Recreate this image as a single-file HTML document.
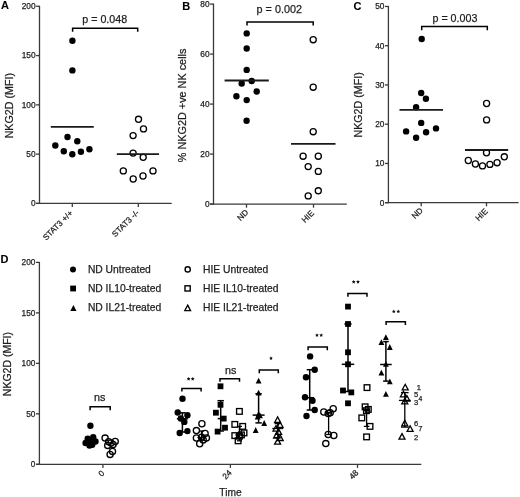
<!DOCTYPE html>
<html><head><meta charset="utf-8"><title>NKG2D figure</title>
<style>
html,body{margin:0;padding:0;background:#fff;}
body{width:520px;height:497px;overflow:hidden;}
svg{display:block;font-family:"Liberation Sans", sans-serif;will-change:transform;}
</style></head>
<body>
<svg width="520" height="497" viewBox="0 0 520 497">
<rect width="520" height="497" fill="#fff"/>
<text x="1" y="9" font-size="11" text-anchor="start" font-weight="bold" fill="#000" stroke="#000" stroke-width="0.1">A</text>
<line x1="39.5" y1="5.8" x2="39.5" y2="203.9" stroke="#3a3a3a" stroke-width="1.3"/>
<line x1="36.1" y1="203.4" x2="39.5" y2="203.4" stroke="#3a3a3a" stroke-width="1.3"/>
<text x="35.5" y="206.3" font-size="8.3" text-anchor="end" font-weight="normal" fill="#1e1e1e" stroke="#1e1e1e" stroke-width="0.25">0</text>
<line x1="36.1" y1="154.12" x2="39.5" y2="154.12" stroke="#3a3a3a" stroke-width="1.3"/>
<text x="35.5" y="157.03" font-size="8.3" text-anchor="end" font-weight="normal" fill="#1e1e1e" stroke="#1e1e1e" stroke-width="0.25">50</text>
<line x1="36.1" y1="104.85" x2="39.5" y2="104.85" stroke="#3a3a3a" stroke-width="1.3"/>
<text x="35.5" y="107.75" font-size="8.3" text-anchor="end" font-weight="normal" fill="#1e1e1e" stroke="#1e1e1e" stroke-width="0.25">100</text>
<line x1="36.1" y1="55.57" x2="39.5" y2="55.57" stroke="#3a3a3a" stroke-width="1.3"/>
<text x="35.5" y="58.47" font-size="8.3" text-anchor="end" font-weight="normal" fill="#1e1e1e" stroke="#1e1e1e" stroke-width="0.25">150</text>
<line x1="36.1" y1="6.3" x2="39.5" y2="6.3" stroke="#3a3a3a" stroke-width="1.3"/>
<text x="35.5" y="9.2" font-size="8.3" text-anchor="end" font-weight="normal" fill="#1e1e1e" stroke="#1e1e1e" stroke-width="0.25">200</text>
<line x1="36" y1="203.4" x2="171.7" y2="203.4" stroke="#3a3a3a" stroke-width="1.3"/>
<line x1="72.3" y1="203.4" x2="72.3" y2="207" stroke="#3a3a3a" stroke-width="1.3"/>
<line x1="138.3" y1="203.4" x2="138.3" y2="207" stroke="#3a3a3a" stroke-width="1.3"/>
<text x="73.3" y="213.7" font-size="8.2" text-anchor="end" font-weight="normal" fill="#1e1e1e" stroke="#1e1e1e" stroke-width="0.25" transform="rotate(-45 73.3 213.7)">STAT3 +/+</text>
<text x="139.6" y="213.2" font-size="8.2" text-anchor="end" font-weight="normal" fill="#1e1e1e" stroke="#1e1e1e" stroke-width="0.25" transform="rotate(-45 139.6 213.2)">STAT3 -/-</text>
<text x="13.2" y="105.7" font-size="10.7" text-anchor="middle" font-weight="normal" fill="#1e1e1e" stroke="#1e1e1e" stroke-width="0.25" transform="rotate(-90 13.2 105.7)">NKG2D (MFI)</text>
<polyline points="72.6,31.8 72.6,28.3 137.7,28.3 137.7,31.8" fill="none" stroke="#000" stroke-width="1.5"/>
<text x="82.3" y="22.9" font-size="10.7" text-anchor="start" font-weight="normal" fill="#1e1e1e" stroke="#1e1e1e" stroke-width="0.25">p = 0.048</text>
<circle cx="72.4" cy="40.7" r="3.2" fill="#000"/>
<circle cx="72.4" cy="70.4" r="3.2" fill="#000"/>
<circle cx="55.3" cy="145.5" r="3.2" fill="#000"/>
<circle cx="67.5" cy="137.0" r="3.2" fill="#000"/>
<circle cx="63.8" cy="151.2" r="3.2" fill="#000"/>
<circle cx="72.3" cy="154.2" r="3.2" fill="#000"/>
<circle cx="77.3" cy="141.3" r="3.2" fill="#000"/>
<circle cx="80.9" cy="151.8" r="3.2" fill="#000"/>
<circle cx="89.4" cy="149.2" r="3.2" fill="#000"/>
<line x1="50.8" y1="126.8" x2="93.8" y2="126.8" stroke="#1a1a1a" stroke-width="1.8"/>
<circle cx="138.5" cy="119.3" r="3.05" fill="none" stroke="#000" stroke-width="1.3"/>
<circle cx="143.5" cy="128.9" r="3.05" fill="none" stroke="#000" stroke-width="1.3"/>
<circle cx="133.1" cy="135.6" r="3.05" fill="none" stroke="#000" stroke-width="1.3"/>
<circle cx="133.1" cy="153.1" r="3.05" fill="none" stroke="#000" stroke-width="1.3"/>
<circle cx="143.2" cy="157.3" r="3.05" fill="none" stroke="#000" stroke-width="1.3"/>
<circle cx="123.3" cy="170.9" r="3.05" fill="none" stroke="#000" stroke-width="1.3"/>
<circle cx="153.0" cy="170.9" r="3.05" fill="none" stroke="#000" stroke-width="1.3"/>
<circle cx="133.2" cy="179.0" r="3.05" fill="none" stroke="#000" stroke-width="1.3"/>
<circle cx="143.0" cy="176.0" r="3.05" fill="none" stroke="#000" stroke-width="1.3"/>
<line x1="116.8" y1="154.2" x2="159" y2="154.2" stroke="#1a1a1a" stroke-width="1.8"/>
<text x="182.3" y="9.7" font-size="11" text-anchor="start" font-weight="bold" fill="#000" stroke="#000" stroke-width="0.1">B</text>
<line x1="213.5" y1="3.6" x2="213.5" y2="204.6" stroke="#3a3a3a" stroke-width="1.3"/>
<line x1="210.1" y1="204.1" x2="213.5" y2="204.1" stroke="#3a3a3a" stroke-width="1.3"/>
<text x="209.5" y="207" font-size="8.3" text-anchor="end" font-weight="normal" fill="#1e1e1e" stroke="#1e1e1e" stroke-width="0.25">0</text>
<line x1="210.1" y1="154.1" x2="213.5" y2="154.1" stroke="#3a3a3a" stroke-width="1.3"/>
<text x="209.5" y="157" font-size="8.3" text-anchor="end" font-weight="normal" fill="#1e1e1e" stroke="#1e1e1e" stroke-width="0.25">20</text>
<line x1="210.1" y1="104.1" x2="213.5" y2="104.1" stroke="#3a3a3a" stroke-width="1.3"/>
<text x="209.5" y="107" font-size="8.3" text-anchor="end" font-weight="normal" fill="#1e1e1e" stroke="#1e1e1e" stroke-width="0.25">40</text>
<line x1="210.1" y1="54.1" x2="213.5" y2="54.1" stroke="#3a3a3a" stroke-width="1.3"/>
<text x="209.5" y="57" font-size="8.3" text-anchor="end" font-weight="normal" fill="#1e1e1e" stroke="#1e1e1e" stroke-width="0.25">60</text>
<line x1="210.1" y1="4.1" x2="213.5" y2="4.1" stroke="#3a3a3a" stroke-width="1.3"/>
<text x="209.5" y="7" font-size="8.3" text-anchor="end" font-weight="normal" fill="#1e1e1e" stroke="#1e1e1e" stroke-width="0.25">80</text>
<line x1="210" y1="204.1" x2="346.8" y2="204.1" stroke="#3a3a3a" stroke-width="1.3"/>
<line x1="246.5" y1="204.1" x2="246.5" y2="207.7" stroke="#3a3a3a" stroke-width="1.3"/>
<line x1="313.5" y1="204.1" x2="313.5" y2="207.7" stroke="#3a3a3a" stroke-width="1.3"/>
<text x="248.9" y="212.8" font-size="8.2" text-anchor="end" font-weight="normal" fill="#1e1e1e" stroke="#1e1e1e" stroke-width="0.25" transform="rotate(-45 248.9 212.8)">ND</text>
<text x="314.7" y="213.7" font-size="8.2" text-anchor="end" font-weight="normal" fill="#1e1e1e" stroke="#1e1e1e" stroke-width="0.25" transform="rotate(-45 314.7 213.7)">HIE</text>
<text x="186.2" y="105.4" font-size="10.85" text-anchor="middle" font-weight="normal" fill="#1e1e1e" stroke="#1e1e1e" stroke-width="0.25" transform="rotate(-90 186.2 105.4)">% NKG2D +ve NK cells</text>
<polyline points="247.0,25.5 247.0,21.9 313.2,21.9 313.2,25.5" fill="none" stroke="#000" stroke-width="1.5"/>
<text x="256.6" y="12.6" font-size="10.8" text-anchor="start" font-weight="normal" fill="#1e1e1e" stroke="#1e1e1e" stroke-width="0.25">p = 0.002</text>
<circle cx="246.7" cy="33.4" r="3.2" fill="#000"/>
<circle cx="246.7" cy="48.5" r="3.2" fill="#000"/>
<circle cx="246.7" cy="69.9" r="3.2" fill="#000"/>
<circle cx="241.7" cy="83.5" r="3.2" fill="#000"/>
<circle cx="251.7" cy="81.0" r="3.2" fill="#000"/>
<circle cx="256.7" cy="91.5" r="3.2" fill="#000"/>
<circle cx="236.4" cy="96.3" r="3.2" fill="#000"/>
<circle cx="246.7" cy="100.1" r="3.2" fill="#000"/>
<circle cx="246.6" cy="120.7" r="3.2" fill="#000"/>
<line x1="224.6" y1="80.5" x2="268.8" y2="80.5" stroke="#1a1a1a" stroke-width="1.8"/>
<circle cx="313.2" cy="39.7" r="3.05" fill="none" stroke="#000" stroke-width="1.3"/>
<circle cx="313.2" cy="87.2" r="3.05" fill="none" stroke="#000" stroke-width="1.3"/>
<circle cx="313.2" cy="131.7" r="3.05" fill="none" stroke="#000" stroke-width="1.3"/>
<circle cx="303.1" cy="156.2" r="3.05" fill="none" stroke="#000" stroke-width="1.3"/>
<circle cx="318.3" cy="156.2" r="3.05" fill="none" stroke="#000" stroke-width="1.3"/>
<circle cx="308.2" cy="166.6" r="3.05" fill="none" stroke="#000" stroke-width="1.3"/>
<circle cx="318.3" cy="171.4" r="3.05" fill="none" stroke="#000" stroke-width="1.3"/>
<circle cx="318.3" cy="190.8" r="3.05" fill="none" stroke="#000" stroke-width="1.3"/>
<circle cx="308.2" cy="195.9" r="3.05" fill="none" stroke="#000" stroke-width="1.3"/>
<line x1="291" y1="143.8" x2="335.5" y2="143.8" stroke="#1a1a1a" stroke-width="1.8"/>
<text x="353.4" y="9.7" font-size="11" text-anchor="start" font-weight="bold" fill="#000" stroke="#000" stroke-width="0.1">C</text>
<line x1="388.4" y1="5.95" x2="388.4" y2="203.2" stroke="#3a3a3a" stroke-width="1.3"/>
<line x1="385" y1="202.7" x2="388.4" y2="202.7" stroke="#3a3a3a" stroke-width="1.3"/>
<text x="384.4" y="205.6" font-size="8.3" text-anchor="end" font-weight="normal" fill="#1e1e1e" stroke="#1e1e1e" stroke-width="0.25">0</text>
<line x1="385" y1="163.45" x2="388.4" y2="163.45" stroke="#3a3a3a" stroke-width="1.3"/>
<text x="384.4" y="166.35" font-size="8.3" text-anchor="end" font-weight="normal" fill="#1e1e1e" stroke="#1e1e1e" stroke-width="0.25">10</text>
<line x1="385" y1="124.2" x2="388.4" y2="124.2" stroke="#3a3a3a" stroke-width="1.3"/>
<text x="384.4" y="127.1" font-size="8.3" text-anchor="end" font-weight="normal" fill="#1e1e1e" stroke="#1e1e1e" stroke-width="0.25">20</text>
<line x1="385" y1="84.95" x2="388.4" y2="84.95" stroke="#3a3a3a" stroke-width="1.3"/>
<text x="384.4" y="87.85" font-size="8.3" text-anchor="end" font-weight="normal" fill="#1e1e1e" stroke="#1e1e1e" stroke-width="0.25">30</text>
<line x1="385" y1="45.7" x2="388.4" y2="45.7" stroke="#3a3a3a" stroke-width="1.3"/>
<text x="384.4" y="48.6" font-size="8.3" text-anchor="end" font-weight="normal" fill="#1e1e1e" stroke="#1e1e1e" stroke-width="0.25">40</text>
<line x1="385" y1="6.45" x2="388.4" y2="6.45" stroke="#3a3a3a" stroke-width="1.3"/>
<text x="384.4" y="9.35" font-size="8.3" text-anchor="end" font-weight="normal" fill="#1e1e1e" stroke="#1e1e1e" stroke-width="0.25">50</text>
<line x1="385.2" y1="202.7" x2="518.6" y2="202.7" stroke="#3a3a3a" stroke-width="1.3"/>
<line x1="421.2" y1="202.7" x2="421.2" y2="206.3" stroke="#3a3a3a" stroke-width="1.3"/>
<line x1="486.5" y1="202.7" x2="486.5" y2="206.3" stroke="#3a3a3a" stroke-width="1.3"/>
<text x="423.4" y="211" font-size="8.2" text-anchor="end" font-weight="normal" fill="#1e1e1e" stroke="#1e1e1e" stroke-width="0.25" transform="rotate(-45 423.4 211)">ND</text>
<text x="488.3" y="211.8" font-size="8.2" text-anchor="end" font-weight="normal" fill="#1e1e1e" stroke="#1e1e1e" stroke-width="0.25" transform="rotate(-45 488.3 211.8)">HIE</text>
<text x="361.9" y="104.9" font-size="10.7" text-anchor="middle" font-weight="normal" fill="#1e1e1e" stroke="#1e1e1e" stroke-width="0.25" transform="rotate(-90 361.9 104.9)">NKG2D (MFI)</text>
<polyline points="421.7,30.3 421.7,26.4 487.3,26.4 487.3,30.3" fill="none" stroke="#000" stroke-width="1.5"/>
<text x="432.5" y="21.6" font-size="10.7" text-anchor="start" font-weight="normal" fill="#1e1e1e" stroke="#1e1e1e" stroke-width="0.25">p = 0.003</text>
<circle cx="421.7" cy="39.0" r="3.2" fill="#000"/>
<circle cx="421.2" cy="93.0" r="3.2" fill="#000"/>
<circle cx="425.9" cy="98.8" r="3.2" fill="#000"/>
<circle cx="416.1" cy="107.3" r="3.2" fill="#000"/>
<circle cx="421.2" cy="122.9" r="3.2" fill="#000"/>
<circle cx="406.1" cy="131.4" r="3.2" fill="#000"/>
<circle cx="426.1" cy="132.3" r="3.2" fill="#000"/>
<circle cx="436.0" cy="128.4" r="3.2" fill="#000"/>
<circle cx="416.1" cy="137.7" r="3.2" fill="#000"/>
<line x1="399.5" y1="109.9" x2="443" y2="109.9" stroke="#1a1a1a" stroke-width="1.8"/>
<circle cx="486.6" cy="103.5" r="3.05" fill="none" stroke="#000" stroke-width="1.3"/>
<circle cx="486.6" cy="119.9" r="3.05" fill="none" stroke="#000" stroke-width="1.3"/>
<circle cx="486.5" cy="152.8" r="3.05" fill="none" stroke="#000" stroke-width="1.3"/>
<circle cx="468.3" cy="160.5" r="3.05" fill="none" stroke="#000" stroke-width="1.3"/>
<circle cx="475.4" cy="164.0" r="3.05" fill="none" stroke="#000" stroke-width="1.3"/>
<circle cx="482.5" cy="165.9" r="3.05" fill="none" stroke="#000" stroke-width="1.3"/>
<circle cx="489.9" cy="164.4" r="3.05" fill="none" stroke="#000" stroke-width="1.3"/>
<circle cx="497.1" cy="162.7" r="3.05" fill="none" stroke="#000" stroke-width="1.3"/>
<circle cx="504.3" cy="156.8" r="3.05" fill="none" stroke="#000" stroke-width="1.3"/>
<line x1="465" y1="150" x2="508.2" y2="150" stroke="#1a1a1a" stroke-width="1.8"/>
<text x="0.6" y="262.8" font-size="11" text-anchor="start" font-weight="bold" fill="#000" stroke="#000" stroke-width="0.1">D</text>
<line x1="39.4" y1="261.9" x2="39.4" y2="464.8" stroke="#3a3a3a" stroke-width="1.3"/>
<line x1="36" y1="464.3" x2="39.4" y2="464.3" stroke="#3a3a3a" stroke-width="1.3"/>
<text x="35.4" y="467.2" font-size="8.3" text-anchor="end" font-weight="normal" fill="#1e1e1e" stroke="#1e1e1e" stroke-width="0.25">0</text>
<line x1="36" y1="413.82" x2="39.4" y2="413.82" stroke="#3a3a3a" stroke-width="1.3"/>
<text x="35.4" y="416.72" font-size="8.3" text-anchor="end" font-weight="normal" fill="#1e1e1e" stroke="#1e1e1e" stroke-width="0.25">50</text>
<line x1="36" y1="363.35" x2="39.4" y2="363.35" stroke="#3a3a3a" stroke-width="1.3"/>
<text x="35.4" y="366.25" font-size="8.3" text-anchor="end" font-weight="normal" fill="#1e1e1e" stroke="#1e1e1e" stroke-width="0.25">100</text>
<line x1="36" y1="312.88" x2="39.4" y2="312.88" stroke="#3a3a3a" stroke-width="1.3"/>
<text x="35.4" y="315.77" font-size="8.3" text-anchor="end" font-weight="normal" fill="#1e1e1e" stroke="#1e1e1e" stroke-width="0.25">150</text>
<line x1="36" y1="262.4" x2="39.4" y2="262.4" stroke="#3a3a3a" stroke-width="1.3"/>
<text x="35.4" y="265.3" font-size="8.3" text-anchor="end" font-weight="normal" fill="#1e1e1e" stroke="#1e1e1e" stroke-width="0.25">200</text>
<line x1="36" y1="464.3" x2="421.3" y2="464.3" stroke="#3a3a3a" stroke-width="1.3"/>
<line x1="102.9" y1="464.3" x2="102.9" y2="467.9" stroke="#3a3a3a" stroke-width="1.3"/>
<line x1="230.4" y1="464.3" x2="230.4" y2="467.9" stroke="#3a3a3a" stroke-width="1.3"/>
<line x1="357.5" y1="464.3" x2="357.5" y2="467.9" stroke="#3a3a3a" stroke-width="1.3"/>
<text x="104.9" y="473.7" font-size="8.2" text-anchor="end" font-weight="normal" fill="#1e1e1e" stroke="#1e1e1e" stroke-width="0.25" transform="rotate(-45 104.9 473.7)">0</text>
<text x="232.3" y="473.2" font-size="8.2" text-anchor="end" font-weight="normal" fill="#1e1e1e" stroke="#1e1e1e" stroke-width="0.25" transform="rotate(-45 232.3 473.2)">24</text>
<text x="359" y="473.2" font-size="8.2" text-anchor="end" font-weight="normal" fill="#1e1e1e" stroke="#1e1e1e" stroke-width="0.25" transform="rotate(-45 359 473.2)">48</text>
<text x="219.3" y="495.8" font-size="10.2" text-anchor="start" font-weight="normal" fill="#1e1e1e" stroke="#1e1e1e" stroke-width="0.25">Time</text>
<text x="10.9" y="364.1" font-size="10.5" text-anchor="middle" font-weight="normal" fill="#1e1e1e" stroke="#1e1e1e" stroke-width="0.25" transform="rotate(-90 10.9 364.1)">NKG2D (MFI)</text>
<circle cx="73.0" cy="269.6" r="3.0" fill="#000"/>
<text x="87.9" y="273.4" font-size="10.3" text-anchor="start" font-weight="normal" fill="#1e1e1e" stroke="#1e1e1e" stroke-width="0.25">ND Untreated</text>
<rect x="70.20" y="285.60" width="5.8" height="5.8" fill="#000"/>
<text x="87.9" y="292.3" font-size="10.3" text-anchor="start" font-weight="normal" fill="#1e1e1e" stroke="#1e1e1e" stroke-width="0.25">ND IL10-treated</text>
<polygon points="73.40,305.12 76.50,310.92 70.30,310.92" fill="#000"/>
<text x="87.9" y="311.4" font-size="10.3" text-anchor="start" font-weight="normal" fill="#1e1e1e" stroke="#1e1e1e" stroke-width="0.25">ND IL21-treated</text>
<circle cx="187.7" cy="269.4" r="2.6" fill="none" stroke="#000" stroke-width="1.4"/>
<text x="203" y="273.4" font-size="10.3" text-anchor="start" font-weight="normal" fill="#1e1e1e" stroke="#1e1e1e" stroke-width="0.25">HIE Untreated</text>
<rect x="185.00" y="285.80" width="5.20" height="5.20" fill="none" stroke="#000" stroke-width="1.4"/>
<text x="203" y="292.3" font-size="10.3" text-anchor="start" font-weight="normal" fill="#1e1e1e" stroke="#1e1e1e" stroke-width="0.25">HIE IL10-treated</text>
<polygon points="187.70,305.11 190.60,310.71 184.80,310.71" fill="none" stroke="#000" stroke-width="1.3" stroke-linejoin="miter"/>
<text x="203" y="311.4" font-size="10.3" text-anchor="start" font-weight="normal" fill="#1e1e1e" stroke="#1e1e1e" stroke-width="0.25">HIE IL21-treated</text>
<circle cx="90.4" cy="425.8" r="3.2" fill="#000"/>
<circle cx="93.2" cy="437.3" r="3.2" fill="#000"/>
<circle cx="87.7" cy="438.8" r="3.2" fill="#000"/>
<circle cx="95.5" cy="441.5" r="3.2" fill="#000"/>
<circle cx="85.6" cy="443.0" r="3.2" fill="#000"/>
<circle cx="89.5" cy="445.5" r="3.2" fill="#000"/>
<circle cx="92.2" cy="444.7" r="3.2" fill="#000"/>
<circle cx="90.0" cy="441.5" r="3.2" fill="#000"/>
<circle cx="105.1" cy="438.1" r="3.1" fill="none" stroke="#000" stroke-width="1.3"/>
<circle cx="115.2" cy="441.5" r="3.1" fill="none" stroke="#000" stroke-width="1.3"/>
<circle cx="107.7" cy="445.4" r="3.1" fill="none" stroke="#000" stroke-width="1.3"/>
<circle cx="111.0" cy="443.0" r="3.1" fill="none" stroke="#000" stroke-width="1.3"/>
<circle cx="113.1" cy="444.5" r="3.1" fill="none" stroke="#000" stroke-width="1.3"/>
<circle cx="110.1" cy="454.4" r="3.1" fill="none" stroke="#000" stroke-width="1.3"/>
<circle cx="112.5" cy="451.4" r="3.1" fill="none" stroke="#000" stroke-width="1.3"/>
<circle cx="108.6" cy="441.8" r="3.1" fill="none" stroke="#000" stroke-width="1.3"/>
<polyline points="90.1,410.3 90.1,406.8 110.2,406.8 110.2,410.3" fill="none" stroke="#000" stroke-width="1.5"/>
<text x="94" y="400.6" font-size="10.8" text-anchor="start" font-weight="normal" fill="#1e1e1e" stroke="#1e1e1e" stroke-width="0.25">ns</text>
<line x1="182.4" y1="412.8" x2="182.4" y2="432" stroke="#000" stroke-width="1.5"/>
<line x1="179.2" y1="412.8" x2="185.6" y2="412.8" stroke="#000" stroke-width="1.5"/>
<line x1="179.2" y1="432" x2="185.6" y2="432" stroke="#000" stroke-width="1.5"/>
<line x1="176.9" y1="418.8" x2="187.9" y2="418.8" stroke="#000" stroke-width="1.5"/>
<circle cx="182.5" cy="398.8" r="3.2" fill="#000"/>
<circle cx="177.7" cy="412.5" r="3.2" fill="#000"/>
<circle cx="187.4" cy="415.2" r="3.2" fill="#000"/>
<circle cx="180.8" cy="418.5" r="3.2" fill="#000"/>
<circle cx="184.3" cy="421.9" r="3.2" fill="#000"/>
<circle cx="179.7" cy="433.0" r="3.2" fill="#000"/>
<circle cx="187.4" cy="431.1" r="3.2" fill="#000"/>
<line x1="201.5" y1="431" x2="201.5" y2="440" stroke="#000" stroke-width="1.3"/>
<line x1="199" y1="431" x2="204" y2="431" stroke="#000" stroke-width="1.3"/>
<line x1="199" y1="440" x2="204" y2="440" stroke="#000" stroke-width="1.3"/>
<line x1="197.5" y1="437.5" x2="205.5" y2="437.5" stroke="#000" stroke-width="1.3"/>
<circle cx="201.9" cy="423.8" r="3.1" fill="none" stroke="#000" stroke-width="1.3"/>
<circle cx="196.4" cy="430.6" r="3.1" fill="none" stroke="#000" stroke-width="1.3"/>
<circle cx="205.1" cy="433.5" r="3.1" fill="none" stroke="#000" stroke-width="1.3"/>
<circle cx="196.4" cy="438.0" r="3.1" fill="none" stroke="#000" stroke-width="1.3"/>
<circle cx="206.4" cy="438.0" r="3.1" fill="none" stroke="#000" stroke-width="1.3"/>
<circle cx="199.7" cy="443.8" r="3.1" fill="none" stroke="#000" stroke-width="1.3"/>
<circle cx="203.2" cy="439.9" r="3.1" fill="none" stroke="#000" stroke-width="1.3"/>
<circle cx="201.6" cy="437.3" r="3.1" fill="none" stroke="#000" stroke-width="1.3"/>
<polyline points="181.9,391.5 181.9,388.4 201.1,388.4 201.1,391.5" fill="none" stroke="#000" stroke-width="1.5"/>
<polygon points="188.60,376.95 189.19,378.09 190.45,378.30 189.55,379.21 189.75,380.48 188.60,379.90 187.45,380.48 187.65,379.21 186.75,378.30 188.01,378.09" fill="#111"/>
<polygon points="192.70,376.95 193.29,378.09 194.55,378.30 193.65,379.21 193.85,380.48 192.70,379.90 191.55,380.48 191.75,379.21 190.85,378.30 192.11,378.09" fill="#111"/>
<line x1="220.7" y1="400.7" x2="220.7" y2="431" stroke="#000" stroke-width="1.5"/>
<line x1="217.5" y1="400.7" x2="223.9" y2="400.7" stroke="#000" stroke-width="1.5"/>
<line x1="217.5" y1="431" x2="223.9" y2="431" stroke="#000" stroke-width="1.5"/>
<line x1="217.7" y1="418.6" x2="223.7" y2="418.6" stroke="#000" stroke-width="1.5"/>
<rect x="217.60" y="383.40" width="5.8" height="5.8" fill="#000"/>
<rect x="217.60" y="401.90" width="5.8" height="5.8" fill="#000"/>
<rect x="213.00" y="409.80" width="5.8" height="5.8" fill="#000"/>
<rect x="220.80" y="415.70" width="5.8" height="5.8" fill="#000"/>
<rect x="222.10" y="424.80" width="5.8" height="5.8" fill="#000"/>
<rect x="214.70" y="428.70" width="5.8" height="5.8" fill="#000"/>
<line x1="239.4" y1="426.4" x2="239.4" y2="440.8" stroke="#000" stroke-width="1.3"/>
<line x1="236.9" y1="426.4" x2="241.9" y2="426.4" stroke="#000" stroke-width="1.3"/>
<line x1="236.9" y1="440.8" x2="241.9" y2="440.8" stroke="#000" stroke-width="1.3"/>
<line x1="235.4" y1="434.9" x2="243.4" y2="434.9" stroke="#000" stroke-width="1.3"/>
<rect x="236.58" y="408.57" width="5.65" height="5.65" fill="none" stroke="#000" stroke-width="1.35"/>
<rect x="231.98" y="421.57" width="5.65" height="5.65" fill="none" stroke="#000" stroke-width="1.35"/>
<rect x="239.88" y="423.57" width="5.65" height="5.65" fill="none" stroke="#000" stroke-width="1.35"/>
<rect x="241.18" y="430.07" width="5.65" height="5.65" fill="none" stroke="#000" stroke-width="1.35"/>
<rect x="231.98" y="432.78" width="5.65" height="5.65" fill="none" stroke="#000" stroke-width="1.35"/>
<rect x="236.58" y="433.38" width="5.65" height="5.65" fill="none" stroke="#000" stroke-width="1.35"/>
<rect x="235.28" y="437.98" width="5.65" height="5.65" fill="none" stroke="#000" stroke-width="1.35"/>
<rect x="238.58" y="432.07" width="5.65" height="5.65" fill="none" stroke="#000" stroke-width="1.35"/>
<polyline points="220.0,381.8 220.0,378.7 239.5,378.7 239.5,381.8" fill="none" stroke="#000" stroke-width="1.5"/>
<text x="224.9" y="373.8" font-size="10.8" text-anchor="start" font-weight="normal" fill="#1e1e1e" stroke="#1e1e1e" stroke-width="0.25">ns</text>
<line x1="258.6" y1="393.8" x2="258.6" y2="422.9" stroke="#000" stroke-width="1.5"/>
<line x1="255.4" y1="393.8" x2="261.8" y2="393.8" stroke="#000" stroke-width="1.5"/>
<line x1="255.4" y1="422.9" x2="261.8" y2="422.9" stroke="#000" stroke-width="1.5"/>
<line x1="252.6" y1="415.1" x2="264.6" y2="415.1" stroke="#000" stroke-width="1.5"/>
<polygon points="258.60,377.82 261.50,383.62 255.70,383.62" fill="#000"/>
<polygon points="258.60,389.82 261.50,395.62 255.70,395.62" fill="#000"/>
<polygon points="258.60,410.92 261.50,416.72 255.70,416.72" fill="#000"/>
<polygon points="257.60,413.82 260.50,419.62 254.70,419.62" fill="#000"/>
<polygon points="260.00,412.52 262.90,418.32 257.10,418.32" fill="#000"/>
<polygon points="264.20,420.12 267.10,425.92 261.30,425.92" fill="#000"/>
<polygon points="255.70,427.12 258.60,432.92 252.80,432.92" fill="#000"/>
<line x1="277.8" y1="423.6" x2="277.8" y2="437.6" stroke="#000" stroke-width="1.3"/>
<line x1="274.8" y1="423.6" x2="280.8" y2="423.6" stroke="#000" stroke-width="1.3"/>
<line x1="274.8" y1="437.6" x2="280.8" y2="437.6" stroke="#000" stroke-width="1.3"/>
<line x1="272.3" y1="428.5" x2="283.3" y2="428.5" stroke="#000" stroke-width="1.3"/>
<polygon points="277.60,416.91 280.60,422.51 274.60,422.51" fill="none" stroke="#000" stroke-width="1.3" stroke-linejoin="miter"/>
<polygon points="280.00,421.71 283.00,427.31 277.00,427.31" fill="none" stroke="#000" stroke-width="1.3" stroke-linejoin="miter"/>
<polygon points="276.00,425.51 279.00,431.11 273.00,431.11" fill="none" stroke="#000" stroke-width="1.3" stroke-linejoin="miter"/>
<polygon points="278.60,428.81 281.60,434.41 275.60,434.41" fill="none" stroke="#000" stroke-width="1.3" stroke-linejoin="miter"/>
<polygon points="276.60,432.41 279.60,438.01 273.60,438.01" fill="none" stroke="#000" stroke-width="1.3" stroke-linejoin="miter"/>
<polygon points="280.20,434.91 283.20,440.51 277.20,440.51" fill="none" stroke="#000" stroke-width="1.3" stroke-linejoin="miter"/>
<polygon points="277.60,438.61 280.60,444.21 274.60,444.21" fill="none" stroke="#000" stroke-width="1.3" stroke-linejoin="miter"/>
<polyline points="259.3,373.3 259.3,369.9 278.3,369.9 278.3,373.3" fill="none" stroke="#000" stroke-width="1.5"/>
<polygon points="271.00,356.35 271.59,357.49 272.85,357.70 271.95,358.61 272.15,359.88 271.00,359.30 269.85,359.88 270.05,358.61 269.15,357.70 270.41,357.49" fill="#111"/>
<line x1="309.7" y1="369.7" x2="309.7" y2="410" stroke="#000" stroke-width="1.5"/>
<line x1="306.7" y1="369.7" x2="312.7" y2="369.7" stroke="#000" stroke-width="1.5"/>
<line x1="306.7" y1="410" x2="312.7" y2="410" stroke="#000" stroke-width="1.5"/>
<line x1="305.2" y1="397.7" x2="314.2" y2="397.7" stroke="#000" stroke-width="1.5"/>
<circle cx="310.1" cy="356.4" r="3.2" fill="#000"/>
<circle cx="314.7" cy="369.7" r="3.2" fill="#000"/>
<circle cx="306.0" cy="377.2" r="3.2" fill="#000"/>
<circle cx="305.0" cy="397.3" r="3.2" fill="#000"/>
<circle cx="312.5" cy="400.7" r="3.2" fill="#000"/>
<circle cx="314.7" cy="410.0" r="3.2" fill="#000"/>
<circle cx="306.5" cy="416.0" r="3.2" fill="#000"/>
<line x1="328.6" y1="412.5" x2="328.6" y2="434.5" stroke="#000" stroke-width="1.3"/>
<line x1="326.1" y1="412.5" x2="331.1" y2="412.5" stroke="#000" stroke-width="1.3"/>
<line x1="326.1" y1="434.5" x2="331.1" y2="434.5" stroke="#000" stroke-width="1.3"/>
<line x1="325.1" y1="413" x2="332.1" y2="413" stroke="#000" stroke-width="1.3"/>
<circle cx="323.8" cy="412.0" r="3.1" fill="none" stroke="#000" stroke-width="1.3"/>
<circle cx="328.2" cy="413.4" r="3.1" fill="none" stroke="#000" stroke-width="1.3"/>
<circle cx="333.2" cy="408.8" r="3.1" fill="none" stroke="#000" stroke-width="1.3"/>
<circle cx="330.2" cy="412.8" r="3.1" fill="none" stroke="#000" stroke-width="1.3"/>
<circle cx="328.2" cy="434.5" r="3.1" fill="none" stroke="#000" stroke-width="1.3"/>
<circle cx="333.8" cy="435.5" r="3.1" fill="none" stroke="#000" stroke-width="1.3"/>
<circle cx="325.8" cy="443.6" r="3.1" fill="none" stroke="#000" stroke-width="1.3"/>
<polyline points="308.1,350.2 308.1,346.9 327.3,346.9 327.3,350.2" fill="none" stroke="#000" stroke-width="1.5"/>
<polygon points="317.00,333.25 317.59,334.39 318.85,334.60 317.95,335.51 318.15,336.78 317.00,336.20 315.85,336.78 316.05,335.51 315.15,334.60 316.41,334.39" fill="#111"/>
<polygon points="321.20,333.25 321.79,334.39 323.05,334.60 322.15,335.51 322.35,336.78 321.20,336.20 320.05,336.78 320.25,335.51 319.35,334.60 320.61,334.39" fill="#111"/>
<line x1="348" y1="324" x2="348" y2="391.5" stroke="#000" stroke-width="1.5"/>
<line x1="344.4" y1="324" x2="351.6" y2="324" stroke="#000" stroke-width="1.5"/>
<line x1="344.4" y1="391.5" x2="351.6" y2="391.5" stroke="#000" stroke-width="1.5"/>
<line x1="341.8" y1="364.3" x2="354.2" y2="364.3" stroke="#000" stroke-width="1.5"/>
<rect x="345.10" y="303.70" width="5.8" height="5.8" fill="#000"/>
<rect x="345.10" y="321.10" width="5.8" height="5.8" fill="#000"/>
<rect x="345.10" y="349.40" width="5.8" height="5.8" fill="#000"/>
<rect x="345.10" y="361.40" width="5.8" height="5.8" fill="#000"/>
<rect x="340.10" y="387.60" width="5.8" height="5.8" fill="#000"/>
<rect x="348.40" y="389.50" width="5.8" height="5.8" fill="#000"/>
<rect x="345.10" y="400.40" width="5.8" height="5.8" fill="#000"/>
<line x1="366.6" y1="409.5" x2="366.6" y2="426.4" stroke="#000" stroke-width="1.3"/>
<line x1="363.8" y1="409.5" x2="369.4" y2="409.5" stroke="#000" stroke-width="1.3"/>
<line x1="363.8" y1="426.4" x2="369.4" y2="426.4" stroke="#000" stroke-width="1.3"/>
<line x1="363.1" y1="410.5" x2="370.1" y2="410.5" stroke="#000" stroke-width="1.3"/>
<rect x="364.18" y="384.78" width="5.65" height="5.65" fill="none" stroke="#000" stroke-width="1.35"/>
<rect x="362.28" y="403.98" width="5.65" height="5.65" fill="none" stroke="#000" stroke-width="1.35"/>
<rect x="365.48" y="406.57" width="5.65" height="5.65" fill="none" stroke="#000" stroke-width="1.35"/>
<rect x="363.57" y="407.88" width="5.65" height="5.65" fill="none" stroke="#000" stroke-width="1.35"/>
<rect x="358.98" y="415.07" width="5.65" height="5.65" fill="none" stroke="#000" stroke-width="1.35"/>
<rect x="367.18" y="423.57" width="5.65" height="5.65" fill="none" stroke="#000" stroke-width="1.35"/>
<rect x="363.78" y="434.07" width="5.65" height="5.65" fill="none" stroke="#000" stroke-width="1.35"/>
<polyline points="347.9,296.7 347.9,293.4 367.0,293.4 367.0,296.7" fill="none" stroke="#000" stroke-width="1.5"/>
<polygon points="353.70,279.95 354.29,281.09 355.55,281.30 354.65,282.21 354.85,283.48 353.70,282.90 352.55,283.48 352.75,282.21 351.85,281.30 353.11,281.09" fill="#111"/>
<polygon points="358.00,279.95 358.59,281.09 359.85,281.30 358.95,282.21 359.15,283.48 358.00,282.90 356.85,283.48 357.05,282.21 356.15,281.30 357.41,281.09" fill="#111"/>
<line x1="385.9" y1="341.6" x2="385.9" y2="381.1" stroke="#000" stroke-width="1.5"/>
<line x1="383.1" y1="341.6" x2="388.7" y2="341.6" stroke="#000" stroke-width="1.5"/>
<line x1="383.1" y1="381.1" x2="388.7" y2="381.1" stroke="#000" stroke-width="1.5"/>
<line x1="380.1" y1="364.5" x2="391.7" y2="364.5" stroke="#000" stroke-width="1.5"/>
<polygon points="385.90,334.32 388.80,340.12 383.00,340.12" fill="#000"/>
<polygon points="381.40,339.32 384.30,345.12 378.50,345.12" fill="#000"/>
<polygon points="389.80,344.12 392.70,349.92 386.90,349.92" fill="#000"/>
<polygon points="385.90,361.02 388.80,366.82 383.00,366.82" fill="#000"/>
<polygon points="381.40,369.82 384.30,375.62 378.50,375.62" fill="#000"/>
<polygon points="389.80,378.52 392.70,384.32 386.90,384.32" fill="#000"/>
<polygon points="385.90,390.92 388.80,396.72 383.00,396.72" fill="#000"/>
<line x1="404.8" y1="392.6" x2="404.8" y2="427.1" stroke="#000" stroke-width="1.3"/>
<line x1="401" y1="392.6" x2="408.6" y2="392.6" stroke="#000" stroke-width="1.3"/>
<line x1="401" y1="427.1" x2="408.6" y2="427.1" stroke="#000" stroke-width="1.3"/>
<line x1="398.9" y1="400.4" x2="410.7" y2="400.4" stroke="#000" stroke-width="1.3"/>
<polygon points="405.20,384.31 408.20,389.91 402.20,389.91" fill="none" stroke="#000" stroke-width="1.3" stroke-linejoin="miter"/>
<polygon points="403.40,391.31 406.40,396.91 400.40,396.91" fill="none" stroke="#000" stroke-width="1.3" stroke-linejoin="miter"/>
<polygon points="406.90,395.51 409.90,401.11 403.90,401.11" fill="none" stroke="#000" stroke-width="1.3" stroke-linejoin="miter"/>
<polygon points="404.80,398.31 407.80,403.91 401.80,403.91" fill="none" stroke="#000" stroke-width="1.3" stroke-linejoin="miter"/>
<polygon points="404.80,420.21 407.80,425.81 401.80,425.81" fill="none" stroke="#000" stroke-width="1.3" stroke-linejoin="miter"/>
<polygon points="410.10,425.81 413.10,431.41 407.10,431.41" fill="none" stroke="#000" stroke-width="1.3" stroke-linejoin="miter"/>
<polygon points="402.00,433.61 405.00,439.21 399.00,439.21" fill="none" stroke="#000" stroke-width="1.3" stroke-linejoin="miter"/>
<polyline points="386.1,325.0 386.1,321.8 405.4,321.8 405.4,325.0" fill="none" stroke="#000" stroke-width="1.5"/>
<polygon points="393.80,309.55 394.39,310.69 395.65,310.90 394.75,311.81 394.95,313.08 393.80,312.50 392.65,313.08 392.85,311.81 391.95,310.90 393.21,310.69" fill="#111"/>
<polygon points="398.30,309.55 398.89,310.69 400.15,310.90 399.25,311.81 399.45,313.08 398.30,312.50 397.15,313.08 397.35,311.81 396.45,310.90 397.71,310.69" fill="#111"/>
<text x="418.9" y="390" font-size="7.6" text-anchor="middle" font-weight="normal" fill="#1e1e1e" stroke="#1e1e1e" stroke-width="0.25">1</text>
<text x="416" y="397" font-size="7.6" text-anchor="middle" font-weight="normal" fill="#1e1e1e" stroke="#1e1e1e" stroke-width="0.25">5</text>
<text x="420.4" y="400.6" font-size="6.84" text-anchor="middle" font-weight="normal" fill="#1e1e1e" stroke="#1e1e1e" stroke-width="0.25">4</text>
<text x="416" y="405" font-size="7.6" text-anchor="middle" font-weight="normal" fill="#1e1e1e" stroke="#1e1e1e" stroke-width="0.25">3</text>
<text x="416" y="425.8" font-size="7.6" text-anchor="middle" font-weight="normal" fill="#1e1e1e" stroke="#1e1e1e" stroke-width="0.25">6</text>
<text x="420.3" y="431.4" font-size="7.6" text-anchor="middle" font-weight="normal" fill="#1e1e1e" stroke="#1e1e1e" stroke-width="0.25">7</text>
<text x="416" y="439.6" font-size="7.6" text-anchor="middle" font-weight="normal" fill="#1e1e1e" stroke="#1e1e1e" stroke-width="0.25">2</text>
</svg>
</body></html>
